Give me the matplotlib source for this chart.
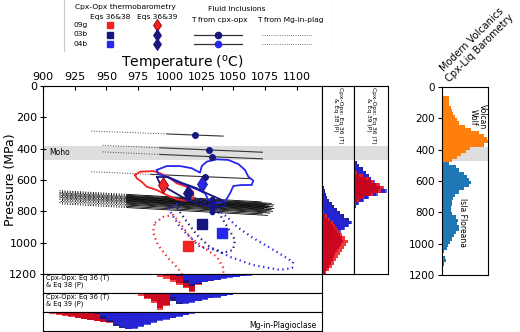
import matplotlib
matplotlib.use('Agg')
import matplotlib.pyplot as plt
import numpy as np
from matplotlib.patches import Rectangle

# Цвета образцов
c09 = '#f52222'
c09_dark = '#c4001c'
c03 = '#16167e'
c04 = '#2626ee'

# Флюидные включения: T по cpx-opx (точка), P, сплошной диапазон, пунктир (Mg-in-plag)
fi_t = [1020, 1031, 1033, 1028]
fi_p = [313, 408, 451, 579]
fi_t_plag = [938, 947, 947, 938]
fi_t_lo = [998, 992, 992, 985]
fi_t_hi = [1042, 1073, 1073, 1063]
fi_slope = [0.31, 0.35, 0.35, 0.35]

# Пучок изохор (03b / 04b)
bundle_t = 1033
bundle_p = [722, 728, 733, 737, 741, 745, 749, 752, 756, 760, 764, 768, 773, 778, 784, 790, 798, 806]
bundle_t_plag = [913, 915, 913, 914, 913, 916, 913, 914, 915, 913, 914, 913, 916, 913, 915, 914, 913, 915]
bundle_t_lo = 966
bundle_t_hi = [1072, 1080, 1076, 1082, 1078, 1075, 1081, 1079, 1077, 1082, 1074, 1080, 1078, 1081, 1076, 1079, 1073, 1077]
bundle_slope = 0.45

# Eqs 36&38 (квадраты) и Eqs 36&39 (ромбы): 09g, 03b, 04b
sq_t = [1014, 1025, 1041]
sq_p = [1021, 881, 938]
dm_t = [995, 1014, 1025]
dm_p = [632, 683, 625]

# Контуры плотности (сплошные = Eq 39, пунктир = Eq 38)
red39_t = [972.6, 976.5, 987, 992.3, 1000.2, 1005.4, 1013.3, 1018.5, 1018.5, 1013.3, 1005.4, 997.5, 989.7, 981.8, 977.8, 973.9]
red39_p = [568, 547, 543, 557, 589, 621, 643, 675, 717, 732, 723, 696, 664, 643, 611, 589]
blue39_t = [989.7, 997.5, 1008, 1017.3, 1023.8, 1025.2, 1029.1, 1037, 1046.1, 1054, 1059.3, 1061.9, 1065.8, 1064.6,
            1056.7, 1050.1, 1047.5, 1043.5, 1035.6, 1030.4, 1027.8, 1022.5, 1014.6, 1005.4, 997.5, 990.9]
blue39_p = [536, 511, 511, 525, 553, 511, 483, 468, 472, 498, 536, 579, 604, 632,
            632, 638, 685, 738, 749, 728, 685, 664, 638, 611, 579, 562]
navy39_t = [989.9, 998.6, 1009.6, 1020.7, 1030.1, 1041.2, 1044.3, 1033.3, 1020.7, 1009.6, 1000.2, 992.3]
navy39_p = [581, 581, 619, 651, 689, 728, 766, 772, 747, 708, 664, 626]
red38_t = [988.3, 994.6, 1002.5, 1008, 1015.9, 1026.2, 1037.2, 1041.9, 1042.7, 1012, 1006.4, 998.6, 990.7, 986.7]
red38_p = [874, 836, 823, 874, 964, 1028, 1091, 1155, 1238, 1238, 1162, 1098, 1015, 932]
blue38_t = [998.6, 1008, 1015.9, 1023.8, 1037.2, 1047.5, 1065.7, 1087, 1096.4, 1097.2, 1084.6, 1065.7, 1053.1,
            1045.2, 1034.2, 1023.8, 1012]
blue38_p = [779, 900, 964, 1028, 1047, 1091, 1143, 1174, 1162, 1123, 1060, 970, 900,
            836, 772, 728, 728]
navy38_t = [1005.7, 1013.6, 1021.4, 1031.7, 1041.2, 1049.8, 1051.4, 1045.9, 1039.6, 1033.3, 1022.2, 1012]
navy38_p = [779, 868, 951, 1028, 1066, 1047, 983, 906, 823, 747, 715, 728]

moho = (382, 472)

# Гистограммы T (нижние панели), шаг 5 °C
eq38t_start = [985, 985, 1005, 1010]
eq38t_09a = [0.05, 0.15, 0.28, 0.42, 0.58, 0.75, 0.95, 0.6, 0.3, 0.12, 0.05, 0.02]
eq38t_09b = [0, 0.03, 0.12, 0.3, 0.5, 0.7, 0.9, 0.55, 0.25, 0.08, 0.02, 0]
eq38t_03 = [0.1, 0.5, 0.65, 0.55, 0.45, 0.38, 0.3, 0.24, 0.18, 0.14, 0.1, 0.07, 0.05, 0.03, 0.02, 0.01]
eq38t_04 = [0.3, 0.55, 0.5, 0.45, 0.4, 0.33, 0.27, 0.22, 0.17, 0.13, 0.1, 0.08, 0.05, 0.04, 0.03, 0.02, 0.01]

eq39t_start = [970, 975, 1000, 1000]
eq39t_09a = [0.02, 0.18, 0.35, 0.55, 0.88, 0.7, 0.35, 0.12, 0.04, 0.01]
eq39t_09b = [0.08, 0.25, 0.45, 0.8, 0.62, 0.25, 0.06, 0.01]
eq39t_03 = [0.45, 0.6, 0.55, 0.48, 0.42, 0.35, 0.28, 0.22, 0.16, 0.11, 0.07, 0.04, 0.02]
eq39t_04 = [0.2, 0.5, 0.6, 0.52, 0.45, 0.38, 0.3, 0.25, 0.18, 0.12, 0.08, 0.05, 0.02]

plagt_start = [900, 900, 940, 945]
plagt_09a = [0.06, 0.1, 0.15, 0.2, 0.27, 0.33, 0.4, 0.45, 0.5, 0.55, 0.58, 0.6, 0.55, 0.45, 0.3, 0.15, 0.05, 0.02]
plagt_09b = [0.03, 0.07, 0.12, 0.18, 0.24, 0.3, 0.36, 0.42, 0.47, 0.52, 0.55, 0.55, 0.5, 0.4, 0.25, 0.1, 0.03]
plagt_03 = [0.1, 0.35, 0.55, 0.75, 0.88, 0.92, 0.85, 0.75, 0.65, 0.55, 0.45, 0.38, 0.3, 0.22, 0.15, 0.08, 0.03]
plagt_04 = [0.2, 0.45, 0.65, 0.8, 0.9, 0.92, 0.8, 0.7, 0.6, 0.5, 0.42, 0.33, 0.25, 0.17, 0.1, 0.04]

# Гистограммы P (боковые панели), шаг 20 МПа
eq38p_start = [800, 820, 620, 640]
eq38p_09a = [0.05, 0.15, 0.25, 0.33, 0.4, 0.47, 0.55, 0.62, 0.72, 0.8, 0.75, 0.68, 0.62, 0.56, 0.5, 0.45, 0.38, 0.3, 0.22, 0.12]
eq38p_09b = [0.1, 0.2, 0.28, 0.35, 0.42, 0.48, 0.55, 0.62, 0.65, 0.6, 0.52, 0.47, 0.42, 0.38, 0.33, 0.28, 0.22, 0.17, 0.1]
eq38p_03 = [0.02, 0.05, 0.08, 0.12, 0.17, 0.22, 0.3, 0.38, 0.46, 0.55, 0.68, 0.85, 0.9, 0.8, 0.7, 0.55, 0.4, 0.28, 0.18, 0.1, 0.05, 0.02]
eq38p_04 = [0.02, 0.05, 0.08, 0.12, 0.17, 0.24, 0.32, 0.4, 0.5, 0.62, 0.75, 0.95, 0.85, 0.72, 0.6, 0.45, 0.32, 0.2, 0.12, 0.06, 0.03]

eq39p_start = [540, 560, 460, 460]
eq39p_09a = [0.08, 0.25, 0.45, 0.6, 0.75, 0.87, 0.8, 0.55, 0.3, 0.15, 0.05]
eq39p_09b = [0.15, 0.35, 0.5, 0.65, 0.75, 0.72, 0.5, 0.25, 0.1]
eq39p_03 = [0.03, 0.1, 0.16, 0.25, 0.35, 0.43, 0.5, 0.6, 0.72, 0.82, 0.9, 0.65, 0.42, 0.25, 0.12, 0.05]
eq39p_04 = [0.02, 0.07, 0.13, 0.22, 0.32, 0.42, 0.5, 0.62, 0.75, 0.85, 0.97, 0.7, 0.45, 0.28, 0.15, 0.06]

# Современные вулканиты (Cpx-Liq), шаг 20 МПа
wolf_start = 0
wolf = [0.02, 0.02, 0.02, 0.15, 0.15, 0.15, 0.2, 0.22, 0.24, 0.28, 0.32, 0.38, 0.5, 0.62, 0.8, 0.92, 0.97,
        1.0, 0.92, 0.6, 0.52, 0.42, 0.32, 0.22, 0.12, 0.05]
floreana_start = 480
floreana = [0.15, 0.3, 0.38, 0.48, 0.54, 0.58, 0.62, 0.58, 0.48, 0.38, 0.28, 0.23, 0.22, 0.21, 0.2, 0.2, 0.22,
            0.3, 0.35, 0.32, 0.38, 0.36, 0.3, 0.25, 0.22, 0.18, 0.12, 0.1, 0.05, 0.03, 0.06, 0.08, 0.05, 0.02]

W, H = 520, 332


def box(x0, y0, x1, y1):
    # пиксели (сверху вниз) -> координаты фигуры
    return [x0 / W, 1 - y1 / H, (x1 - x0) / W, (y1 - y0) / H]


def edges(start, vals, step):
    return start + step * np.arange(len(vals) + 1)


fig = plt.figure(figsize=(W / 100, H / 100), dpi=100)

# ---------------- основной график ----------------
ax = fig.add_axes(box(43, 86, 322, 274))
ax.axhspan(*moho, color='#dedede', zorder=0, lw=0)
ax.text(905, np.mean(moho), 'Moho', fontsize=5.5, va='center')

for t, p, tp, tl, th, s in zip(fi_t, fi_p, fi_t_plag, fi_t_lo, fi_t_hi, fi_slope):
    ax.plot([tp, tl], [p + s * (tp - t), p + s * (tl - t)], ls=':', color='#444444', lw=0.7, zorder=1)
    ax.plot([tl, th], [p + s * (tl - t), p + s * (th - t)], color='#333333', lw=0.8, zorder=1)
    ax.plot(t, p, 'o', color=c03, ms=4, zorder=4)

s = bundle_slope
for p, tp, th in zip(bundle_p, bundle_t_plag, bundle_t_hi):
    t = bundle_t
    ax.plot([tp, bundle_t_lo], [p + s * (tp - t), p + s * (bundle_t_lo - t)], ls=':', color='black', lw=0.7, zorder=1)
    ax.plot([bundle_t_lo, th], [p + s * (bundle_t_lo - t), p + s * (th - t)], color='black', lw=0.6, zorder=1)
    ax.plot(t, p, 'o', color=c03, ms=3, zorder=4)

for tt, pp, c in [(red39_t, red39_p, c09), (blue39_t, blue39_p, c04), (navy39_t, navy39_p, c03)]:
    ax.plot(tt + tt[:1], pp + pp[:1], color=c, lw=1.3, zorder=2)
for tt, pp, c in [(red38_t, red38_p, c09), (blue38_t, blue38_p, c04), (navy38_t, navy38_p, c03)]:
    ax.plot(tt + tt[:1], pp + pp[:1], color=c, lw=1.6, ls=(0, (0.6, 1.6)), zorder=2)

for t, p, c in zip(sq_t, sq_p, [c09, c03, c04]):
    ax.plot(t, p, 's', color=c, ms=6.5, zorder=5)
for t, p, c in zip(dm_t, dm_p, [c09, c03, c04]):
    ax.plot(t, p, 'd', color=c, mec=c03 if c != c09 else '#8a0010', mew=0.6, ms=8, zorder=5)

ax.set_xlim(900, 1120)
ax.set_ylim(1200, 0)
ax.set_xticks(np.arange(900, 1101, 25))
ax.set_yticks(np.arange(0, 1201, 200))
ax.xaxis.tick_top()
ax.xaxis.set_label_position('top')
ax.tick_params(axis='x', labelsize=8, direction='in', length=3, pad=3)
ax.tick_params(axis='y', labelsize=8, direction='inout', length=5, pad=1.5)
ax.set_xlabel(r'Temperature ($^{\rm o}$C)', fontsize=10, labelpad=3)
ax.set_ylabel('Pressure (MPa)', fontsize=9)
ax.yaxis.set_label_coords(-0.092, 0.5)

# ---------------- нижние панели (T) ----------------
bottom_sets = [
    ((43, 274, 322, 292.7), eq38t_start, [eq38t_09a, eq38t_09b, eq38t_03, eq38t_04], 'Cpx-Opx: Eq 36 (T)\n& Eq 38 (P)'),
    ((43, 292.7, 322, 312), eq39t_start, [eq39t_09a, eq39t_09b, eq39t_03, eq39t_04], 'Cpx-Opx: Eq 36 (T)\n& Eq 39 (P)'),
    ((43, 312, 322, 330.7), plagt_start, [plagt_09a, plagt_09b, plagt_03, plagt_04], None),
]
for rect, starts, hists, label in bottom_sets:
    bx = fig.add_axes(box(*rect))
    for st, h, c, a in zip(starts, hists, [c09, c09_dark, c03, c04], [0.85, 0.85, 0.95, 0.75]):
        bx.stairs(h, edges(st, h, 5), fill=True, color=c, alpha=a, lw=0)
    bx.set_xlim(900, 1120)
    bx.set_ylim(1, 0)
    bx.set_xticks([])
    bx.set_yticks([])
    if label:
        bx.text(0.01, 0.95, label, transform=bx.transAxes, fontsize=4.8, va='top', linespacing=1.0)
    else:
        bx.text(0.98, 0.3, 'Mg-in-Plagioclase', transform=bx.transAxes, fontsize=5.5, ha='right', va='center')

# ---------------- боковые панели (P) ----------------
side_sets = [
    ((322, 86, 354, 274), eq38p_start, [eq38p_03, eq38p_04, eq38p_09a, eq38p_09b], 'Cpx-Opx: Eq 36 (T)\n& Eq 38 (P)'),
    ((354, 86, 388, 274), eq39p_start, [eq39p_03, eq39p_04, eq39p_09a, eq39p_09b], 'Cpx-Opx: Eq 36 (T)\n& Eq 39 (P)'),
]
for rect, starts, hists, label in side_sets:
    sx = fig.add_axes(box(*rect))
    sx.axhspan(*moho, color='#dedede', zorder=0, lw=0)
    order = [(starts[2], hists[0], c03, 0.95), (starts[3], hists[1], c04, 0.75),
             (starts[0], hists[2], c09, 0.9), (starts[1], hists[3], c09_dark, 0.85)]
    for st, h, c, a in order:
        sx.stairs(h, edges(st, h, 20), fill=True, color=c, alpha=a, lw=0, orientation='horizontal')
    sx.set_ylim(1200, 0)
    sx.set_xlim(0, 1)
    sx.set_xticks([])
    sx.set_yticks([])
    sx.text(0.5, 0.995, label, transform=sx.transAxes, fontsize=4.3, rotation=-90,
            ha='center', va='top', linespacing=1.0)

# ---------------- современные вулканиты ----------------
rx = fig.add_axes(box(442, 87, 488, 275))
rx.axhspan(*moho, color='#dedede', zorder=0, lw=0)
rx.stairs(wolf, edges(wolf_start, wolf, 20), fill=True, color='#ff7f0e', lw=0, orientation='horizontal', zorder=1)
rx.stairs(floreana, edges(floreana_start, floreana, 20), fill=True, color='#1f77b4', lw=0,
          orientation='horizontal', zorder=1)
rx.set_ylim(1200, 0)
rx.set_xlim(0, 1.0)
rx.set_xticks([])
rx.set_yticks(np.arange(0, 1201, 200))
rx.tick_params(axis='y', labelsize=7.5, length=3, pad=2)
rx.text(0.78, 0.84, 'Volcan\nWolf', transform=rx.transAxes, fontsize=5.5, rotation=-90,
        ha='center', va='center', linespacing=1.0)
rx.text(0.45, 0.28, 'Isla Floreana', transform=rx.transAxes, fontsize=5.5, rotation=-90,
        ha='center', va='center')
fig.text(476 / W, 1 - 44 / H, 'Modern Volcanics\nCpx-Liq Barometry', fontsize=7, rotation=45,
         ha='center', va='center', linespacing=1.1)

# ---------------- легенда ----------------
lg = fig.add_axes(box(63, 0, 332, 52))
lg.set_xlim(63, 332)
lg.set_ylim(52, 0)
lg.axis('off')
lg.add_patch(Rectangle((63.5, -2), 268, 53.5, fill=False, ec='#c8c8c8', lw=0.8))
fs = 5.4
lg.text(125, 7, 'Cpx-Opx thermobarometry', fontsize=fs, ha='center', va='center')
lg.text(110, 16.5, 'Eqs 36&38', fontsize=fs, ha='center', va='center')
lg.text(157, 16.5, 'Eqs 36&39', fontsize=fs, ha='center', va='center')
for y, name, c in [(24.5, '09g', c09), (34.5, '03b', c03), (44, '04b', c04)]:
    lg.text(73, y, name, fontsize=fs, va='center')
    lg.plot(110, y, 's', color=c, ms=4.5)
    lg.plot(157, y, 'd', color=c if c == c09 else c03, mec=c03 if c != c09 else '#8a0010', mew=0.6, ms=6)
lg.text(237, 9, 'Fluid Inclusions', fontsize=fs, ha='center', va='center')
lg.text(219, 20, 'T from cpx-opx', fontsize=fs, ha='center', va='center')
lg.text(290, 20, 'T from Mg-in-plag', fontsize=fs, ha='center', va='center')
for y, c in [(34.5, c03), (44, c04)]:
    lg.plot([194, 242], [y, y], color='#333333', lw=0.9)
    lg.plot(218, y, 'o', color=c, ms=4.5)
    lg.plot([262, 312], [y, y], ls=':', color='#555555', lw=0.6)

fig.savefig('out.png', dpi=100)
